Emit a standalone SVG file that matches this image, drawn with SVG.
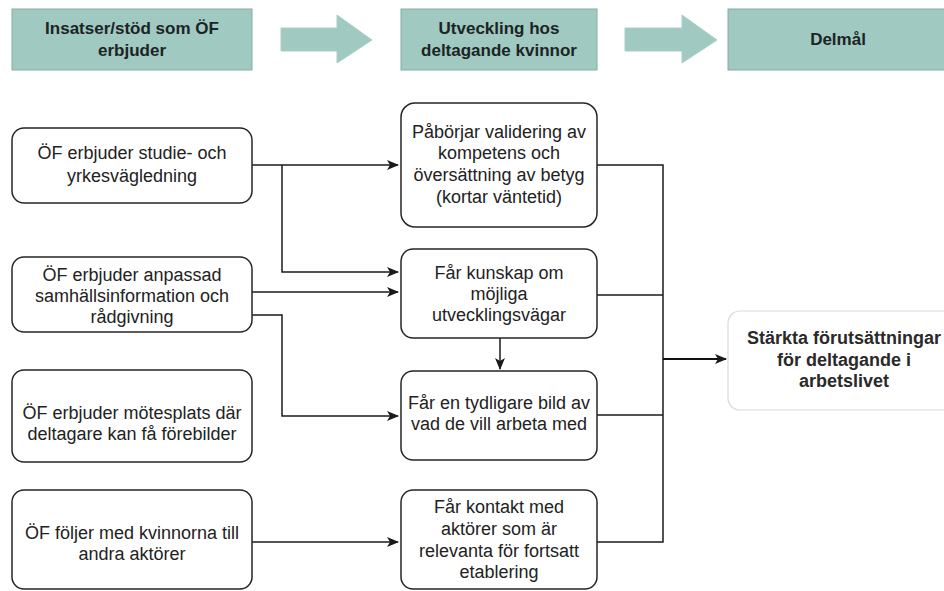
<svg xmlns="http://www.w3.org/2000/svg" width="944" height="591" viewBox="0 0 944 591">
  <style>
    .hdr { fill: #9fc9c1; stroke: #86aba4; stroke-width: 1; }
    .harrow { fill: #9fc9c1; stroke: #a9cfc8; stroke-width: 1; }
    .htxt { font-family: "Liberation Sans", Arial, sans-serif; font-weight: bold; font-size: 17px; fill: #1c2424; text-anchor: middle; }
    .box { fill: #ffffff; stroke: #262626; stroke-width: 1.5; }
    .res { fill: #ffffff; stroke: #d9d9d9; stroke-width: 1.2; }
    .txt { font-family: "Liberation Sans", Arial, sans-serif; font-size: 18px; fill: #222222; text-anchor: middle; }
    .rtxt { font-family: "Liberation Sans", Arial, sans-serif; font-weight: bold; font-size: 18px; fill: #2a2a2a; text-anchor: middle; }
    .conn { fill: none; stroke: #1a1a1a; stroke-width: 1.5; }
    .thick { fill: none; stroke: #111111; stroke-width: 2.2; }
  </style>
  <defs>
    <marker id="arr" viewBox="0 0 12 10" refX="11" refY="5" markerWidth="12" markerHeight="10" markerUnits="userSpaceOnUse" orient="auto">
      <path d="M0,0 L12,5 L0,10 L3,5 Z" fill="#1a1a1a"/>
    </marker>
  </defs>

  <rect width="944" height="591" fill="#ffffff"/>

  <!-- Header -->
  <g id="hdr1">
    <rect class="hdr" x="12" y="9" width="240" height="61"/>
    <text class="htxt" x="132" y="34">Insatser/stöd som ÖF</text>
    <text class="htxt" x="132" y="56">erbjuder</text>
  </g>
  <g id="harrow1">
    <polygon class="harrow" points="281,28 337,28 337,15 372,40 337,63 337,51 281,51"/>
  </g>
  <g id="hdr2">
    <rect class="hdr" x="401" y="9" width="196" height="61"/>
    <text class="htxt" x="499" y="34">Utveckling hos</text>
    <text class="htxt" x="499" y="56">deltagande kvinnor</text>
  </g>
  <g id="harrow2">
    <polygon class="harrow" points="625,28 682,28 682,15 717,40 682,63 682,51 625,51"/>
  </g>
  <g id="hdr3">
    <rect class="hdr" x="728" y="9" width="230" height="61"/>
    <text class="htxt" x="838" y="45">Delmål</text>
  </g>

  <!-- Connectors -->
  <g id="connectors">
    <path class="conn" d="M252,165 L398,165" marker-end="url(#arr)"/>
    <path class="conn" d="M282,165 L282,272 L398,272" marker-end="url(#arr)"/>
    <path class="conn" d="M252,292 L398,292" marker-end="url(#arr)"/>
    <path class="conn" d="M252,315 L282,315 L282,416 L398,416" marker-end="url(#arr)"/>
    <path class="conn" d="M252,542 L398,542" marker-end="url(#arr)"/>
    <path class="conn" d="M500,338 L500,369" marker-end="url(#arr)"/>
    <path class="conn" d="M597,165 L663,165 L663,542 L597,542"/>
    <path class="conn" d="M597,295 L663,295"/>
    <path class="conn" d="M597,415 L663,415"/>
    <path class="thick" d="M663,359 L726,359" marker-end="url(#arr)"/>
  </g>

  <!-- Left column -->
  <g id="l1">
    <rect class="box" x="12" y="128" width="240" height="75" rx="12"/>
    <text class="txt" x="132" y="159">ÖF erbjuder studie- och</text>
    <text class="txt" x="132" y="182">yrkesvägledning</text>
  </g>
  <g id="l2">
    <rect class="box" x="12" y="257" width="240" height="75" rx="12"/>
    <text class="txt" x="132" y="281">ÖF erbjuder anpassad</text>
    <text class="txt" x="132" y="302">samhällsinformation och</text>
    <text class="txt" x="132" y="323">rådgivning</text>
  </g>
  <g id="l3">
    <rect class="box" x="12" y="370" width="240" height="92" rx="12"/>
    <text class="txt" x="132" y="419">ÖF erbjuder mötesplats där</text>
    <text class="txt" x="132" y="440">deltagare kan få förebilder</text>
  </g>
  <g id="l4">
    <rect class="box" x="12" y="490" width="240" height="99" rx="12"/>
    <text class="txt" x="132" y="539">ÖF följer med kvinnorna till</text>
    <text class="txt" x="132" y="560">andra aktörer</text>
  </g>

  <!-- Middle column -->
  <g id="m1">
    <rect class="box" x="401" y="103" width="196" height="124" rx="14"/>
    <text class="txt" x="499" y="138">Påbörjar validering av</text>
    <text class="txt" x="499" y="159">kompetens och</text>
    <text class="txt" x="499" y="181">översättning av betyg</text>
    <text class="txt" x="499" y="203">(kortar väntetid)</text>
  </g>
  <g id="m2">
    <rect class="box" x="401" y="249" width="196" height="89" rx="12"/>
    <text class="txt" x="499" y="279">Får kunskap om</text>
    <text class="txt" x="499" y="300">möjliga</text>
    <text class="txt" x="499" y="321">utvecklingsvägar</text>
  </g>
  <g id="m3">
    <rect class="box" x="401" y="371" width="196" height="89" rx="12"/>
    <text class="txt" x="499" y="409">Får en tydligare bild av</text>
    <text class="txt" x="499" y="430">vad de vill arbeta med</text>
  </g>
  <g id="m4">
    <rect class="box" x="401" y="490" width="196" height="99" rx="12"/>
    <text class="txt" x="499" y="513">Får kontakt med</text>
    <text class="txt" x="499" y="535">aktörer som är</text>
    <text class="txt" x="499" y="557">relevanta för fortsatt</text>
    <text class="txt" x="499" y="578">etablering</text>
  </g>

  <!-- Result -->
  <g id="result">
    <rect class="res" x="728" y="311" width="234" height="99" rx="12"/>
    <text class="rtxt" x="844" y="344">Stärkta förutsättningar</text>
    <text class="rtxt" x="844" y="366">för deltagande i</text>
    <text class="rtxt" x="844" y="387">arbetslivet</text>
  </g>
</svg>
